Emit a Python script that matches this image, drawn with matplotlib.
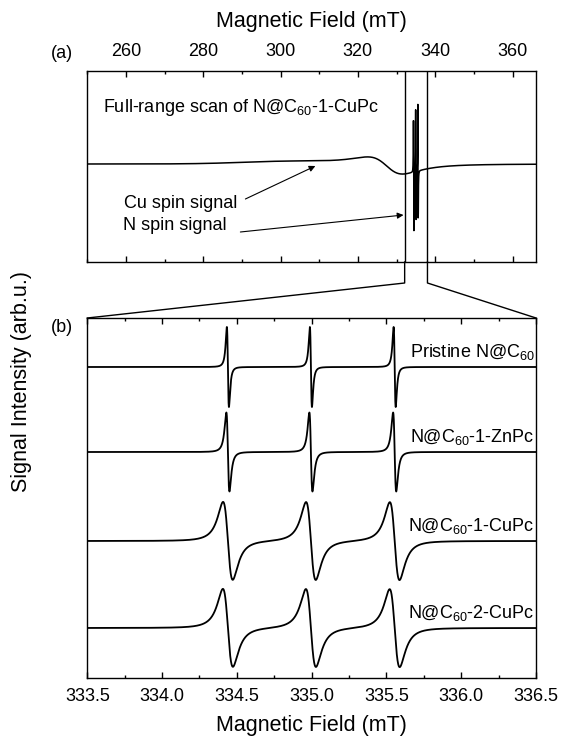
import numpy as np
import matplotlib
matplotlib.use('Agg')
import matplotlib.pyplot as plt
from matplotlib.lines import Line2D
from matplotlib.ticker import MultipleLocator

plt.rcParams['font.family'] = ['Liberation Sans', 'DejaVu Sans']
plt.rcParams['mathtext.fontset'] = 'custom'
plt.rcParams['mathtext.rm'] = 'Liberation Sans'
plt.rcParams['mathtext.it'] = 'Liberation Sans:italic'

# --- full-range scan of N@C60-1-CuPc (panel a) ---
FULL_RANGE = (250.0, 366.0)
FULL_POINTS = 2048     # field points of the wide sweep
CU_CENTER = 327.5      # broad Cu2+ derivative line
CU_WIDTH = 7.8
CU_AMP = 7.5
CU_ABS_CENTER = 330.0  # asymmetric part of the Cu line
CU_ABS_WIDTH = 5.0
CU_ABS_AMP = -3.0
BUMP_CENTER = 302.0    # slow baseline drift
BUMP_SIGMA = 12.0
BUMP_AMP = 2.5
N_FULL_AMP = 70.0
N_FULL_WIDTH = 0.058
BOX = (332.1, 338.0)   # zoomed window marked on the full scan

# --- zoomed N hyperfine triplet (panel b) ---
ZOOM_RANGE = (333.5, 336.5)
N_LINES = [334.44, 334.995, 335.555]
SAMPLES = ['Pristine N@C$\\mathregular{_{60}}$',
           'N@C$\\mathregular{_{60}}$-1-ZnPc',
           'N@C$\\mathregular{_{60}}$-1-CuPc',
           'N@C$\\mathregular{_{60}}$-2-CuPc']
OFFSETS = [261, 176, 87, 0]
WIDTHS = [0.012, 0.018, 0.056, 0.058]
AMPS = [40, 39.5, 39, 39]


def dlor(x, c, g, a):
    # first-derivative Lorentzian, scaled so the lobes reach +/- a
    u = (x - c) / g
    return -a * u / (1 + u ** 2) ** 2 / 0.32476


def lor(x, c, g, a):
    u = (x - c) / g
    return a / (1 + u ** 2)


W, H = 561, 737
fig = plt.figure(figsize=(W / 100, H / 100), dpi=100)

def fx(px):
    return px / W

def fy(py):
    return 1 - py / H

ax1 = fig.add_axes([fx(87.3), fy(262), fx(535.7) - fx(87.3), fy(71) - fy(262)])
ax2 = fig.add_axes([fx(87.3), fy(678), fx(536) - fx(87.3), fy(318) - fy(678)])

# panel a
B = np.linspace(FULL_RANGE[0], FULL_RANGE[1], FULL_POINTS)
sig = dlor(B, CU_CENTER, CU_WIDTH, CU_AMP) + lor(B, CU_ABS_CENTER, CU_ABS_WIDTH, CU_ABS_AMP)
sig += BUMP_AMP * np.exp(-0.5 * ((B - BUMP_CENTER) / BUMP_SIGMA) ** 2)
for c in N_LINES:
    sig += dlor(B, c, N_FULL_WIDTH, N_FULL_AMP)
ax1.plot(B, sig, color='k', lw=1.1)
ax1.set_xlim(*FULL_RANGE)
ax1.set_ylim(-98, 93)
for b in BOX:
    ax1.axvline(b, color='k', lw=1.0)

ax1.text(254.1, 56, 'Full-range scan of N@C$\\mathregular{_{60}}$-1-CuPc',
         fontsize=13, ha='left', va='center')
ax1.text(259.5, -39, 'Cu spin signal', fontsize=13, ha='left', va='center')
ax1.text(259.3, -62, 'N spin signal', fontsize=13, ha='left', va='center')
arr = dict(arrowstyle='-|>', lw=0.8, color='k', mutation_scale=9, shrinkA=0, shrinkB=0)
ax1.annotate('', xy=(309.0, -2), xytext=(290.9, -35), arrowprops=arr)
ax1.annotate('', xy=(331.8, -51), xytext=(289.6, -68), arrowprops=arr)

ax1.xaxis.set_major_locator(MultipleLocator(20))
ax1.xaxis.set_minor_locator(MultipleLocator(10))
ax1.tick_params(axis='x', which='both', direction='in', top=True, bottom=True,
                labeltop=True, labelbottom=False, labelsize=13, pad=8)
ax1.tick_params(axis='x', which='major', length=4.5, width=1.0)
ax1.tick_params(axis='x', which='minor', length=2.5, width=1.0)
ax1.set_yticks([])

# panel b
Bz = np.linspace(ZOOM_RANGE[0], ZOOM_RANGE[1], 60001)
for name, off, w, a in zip(SAMPLES, OFFSETS, WIDTHS, AMPS):
    s = np.full_like(Bz, float(off))
    for c in N_LINES:
        s += dlor(Bz, c, w, a)
    ax2.plot(Bz, s, color='k', lw=1.3)
    ax2.text(ZOOM_RANGE[1] - 0.008, off + 15, name, fontsize=13, ha='right', va='center')
ax2.set_xlim(*ZOOM_RANGE)
ax2.set_ylim(-50, 310)
ax2.xaxis.set_major_locator(MultipleLocator(0.5))
ax2.xaxis.set_minor_locator(MultipleLocator(0.25))
ax2.xaxis.set_major_formatter(matplotlib.ticker.FormatStrFormatter('%.1f'))
ax2.tick_params(axis='x', which='both', direction='in', top=True, bottom=True,
                labelsize=13, pad=7)
ax2.tick_params(axis='x', which='major', length=4.5, width=1.0)
ax2.tick_params(axis='x', which='minor', length=2.5, width=1.0)
ax2.set_yticks([])

for ax in (ax1, ax2):
    for sp in ax.spines.values():
        sp.set_linewidth(1.0)

# lines linking the marked window to panel b
to_fig = fig.transFigure.inverted()
knee = fy(283)
for b, corner in zip(BOX, (ax2.get_position().x0, ax2.get_position().x1)):
    xb, _ = to_fig.transform(ax1.transData.transform((b, 0)))
    fig.add_artist(Line2D([xb, xb, corner], [ax1.get_position().y0, knee, ax2.get_position().y1],
                          transform=fig.transFigure, color='k', lw=1.0))

fig.text(0.5556, fy(22), 'Magnetic Field (mT)', fontsize=15.5, ha='center', va='center')
fig.text(0.5556, fy(725), 'Magnetic Field (mT)', fontsize=15.5, ha='center', va='center')
fig.text(fx(22), fy(382), 'Signal Intensity (arb.u.)', fontsize=15.5, rotation=90,
         ha='center', va='center')
fig.text(fx(62), fy(53), '(a)', fontsize=13, ha='center', va='center')
fig.text(fx(62), fy(327), '(b)', fontsize=13, ha='center', va='center')

fig.savefig('out.png', dpi=100)
